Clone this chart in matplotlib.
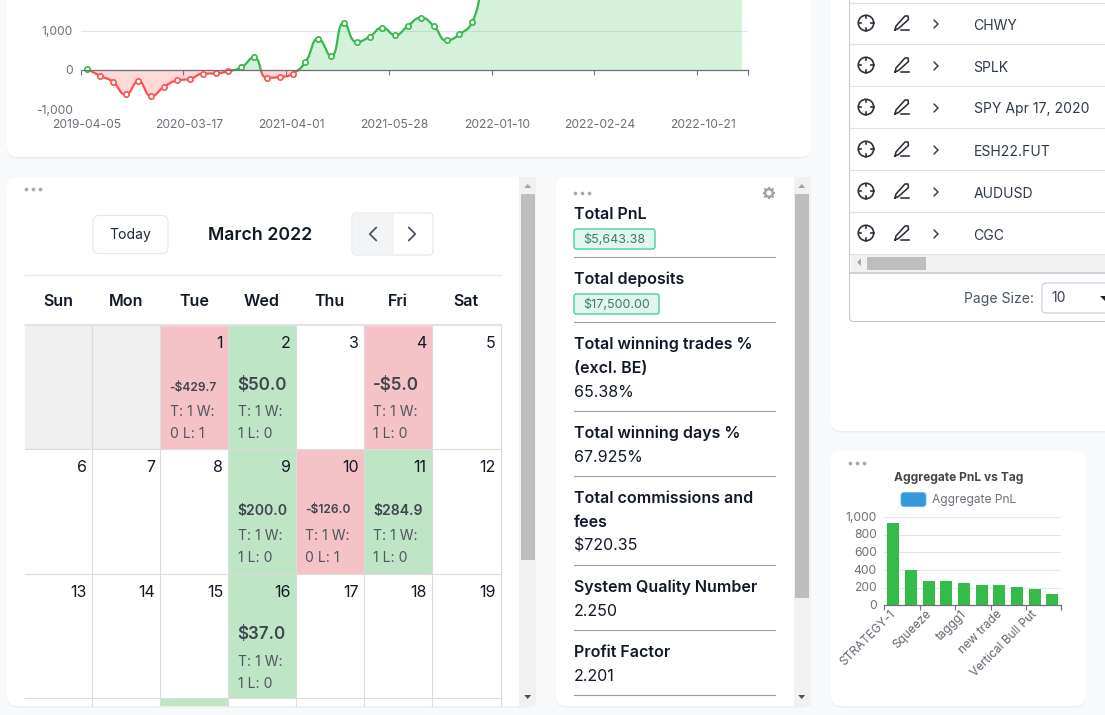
#!/usr/bin/env python3
import numpy as np
import matplotlib
matplotlib.use("Agg")
import matplotlib.pyplot as plt
from matplotlib.patches import FancyBboxPatch, Rectangle, Circle
from matplotlib.transforms import ScaledTranslation

plt.rcParams["font.family"] = ["Inter", "DejaVu Sans"]

W, H = 1105, 715

# pnl line chart, one value per trade date (the ones past index 30 are cut off by the top of the page)
pnl_values = [34, -135, -287, -608, -278, -650, -413, -253, -219, -84, -76, -17,
              76, 329, -186, -169, -84, 211, 802, 363, 1207, 717, 852, 1080, 895,
              1131, 1333, 1122, 759, 911, 1224, 2300, 2700, 3000, 3200, 3400, 3500,
              3700, 3900, 4000, 4200, 4300, 4500, 4600, 4800, 4900, 5000, 5200,
              5300, 5400, 5500, 5643]
pnl_tick_pos = [0, 8, 16, 24, 32, 40, 48]
pnl_tick_labels = ["2019-04-05", "2020-03-17", "2021-04-01", "2021-05-28",
                   "2022-01-10", "2022-02-24", "2022-10-21"]

# aggregate pnl by tag
tag_values = [932, 400, 275, 275, 257, 230, 230, 204, 189, 128]
tag_labels = ["STRATEGY-1", "Squeeze", "taggg1", "new trade", "Vertical Bull Put"]
tag_label_pos = [0, 2, 4, 6, 8]

# calendar
week_days = ["Sun", "Mon", "Tue", "Wed", "Thu", "Fri", "Sat"]
cal_weeks = [[None, None, 1, 2, 3, 4, 5], [6, 7, 8, 9, 10, 11, 12], [13, 14, 15, 16, 17, 18, 19]]
cal_days = {1: ("-$429.7", "T: 1 W:", "0 L: 1", False), 2: ("$50.0", "T: 1 W:", "1 L: 0", True),
            4: ("-$5.0", "T: 1 W:", "1 L: 0", True), 9: ("$200.0", "T: 1 W:", "1 L: 0", False),
            10: ("-$126.0", "T: 1 W:", "0 L: 1", False), 11: ("$284.9", "T: 1 W:", "1 L: 0", False),
            16: ("$37.0", "T: 1 W:", "1 L: 0", True)}
win_days = [2, 9, 11, 16]
loss_days = [1, 4, 10]

# table
symbols = ["CHWY", "SPLK", "SPY Apr 17, 2020", "ESH22.FUT", "AUDUSD", "CGC"]

GREEN = "#34b94a"
RED = "#ff4f4f"
AXIS = "#6e7079"
GRID = "#e0e6f1"
PINK = "#f5c2c7"
MINT = "#bfe5c7"


def smooth(values, sx=12.84, sy=0.0395, k=0.5, steps=30):
    # bezier through the points in pixel space with clamped control points, like the original chart's smoothed line
    x = np.arange(len(values)) * sx
    y = np.array(values, dtype=float) * sy
    n = len(y)
    cp_in, cp_out = np.zeros((n, 2)), np.zeros((n, 2))
    for i in range(n):
        p = np.array([x[i], y[i]])
        a = np.array([x[max(i-1, 0)], y[max(i-1, 0)]])
        b = np.array([x[min(i+1, n-1)], y[min(i+1, n-1)]])
        v = (b - a) * k
        d0, d1 = np.linalg.norm(p - a), np.linalg.norm(b - p)
        if d0 == 0:
            cp_out[i] = p + v * 0.5
            cp_in[i] = p
            continue
        if d1 == 0:
            cp_in[i] = p - v * 0.5
            cp_out[i] = p
            continue
        out = np.clip(p + v * d1 / (d0 + d1), np.minimum(p, b), np.maximum(p, b))
        inn = np.clip(p - (out - p) * d0 / d1, np.minimum(p, a), np.maximum(p, a))
        cp_in[i] = inn
        cp_out[i] = p + (p - inn) * d1 / d0
    xs, ys = [], []
    for i in range(n - 1):
        t = np.linspace(0, 1, steps, endpoint=False)
        for dst, p0, c0, c1, p1 in ((xs, x[i], cp_out[i, 0], cp_in[i+1, 0], x[i+1]),
                                    (ys, y[i], cp_out[i, 1], cp_in[i+1, 1], y[i+1])):
            dst.append((1-t)**3*p0 + 3*(1-t)**2*t*c0 + 3*(1-t)*t**2*c1 + t**3*p1)
    return np.concatenate(xs + [[x[-1]]]) / sx, np.concatenate(ys + [[y[-1]]]) / sy


def px_axes(x0, y0, x1, y1):
    ax = fig.add_axes([x0 / W, 1 - y1 / H, (x1 - x0) / W, (y1 - y0) / H])
    ax.patch.set_alpha(0)
    return ax


def txt(x, y, s, px=14, color="#111827", weight="normal", ha="left", **kw):
    # +1.5: Inter sits a bit high with va=center
    return bg.text(x, y + 1.5, s, fontsize=px * 0.72, color=color, fontweight=weight,
                   ha=ha, va="center", **kw)


def card(x0, y0, x1, y1, r=10):
    bg.add_patch(FancyBboxPatch((x0 + r, y0 + r + 1.5), x1 - x0 - 2*r, y1 - y0 - 2*r,
                                boxstyle=f"round,pad={r},rounding_size={r}", fc="#eceef1", ec="none"))
    bg.add_patch(FancyBboxPatch((x0 + r, y0 + r), x1 - x0 - 2*r, y1 - y0 - 2*r,
                                boxstyle=f"round,pad={r},rounding_size={r}", fc="white", ec="none"))


def dots(x, y):
    bg.scatter([x, x + 7, x + 14], [y, y, y], s=7, color="#a3a8b4", linewidths=0)


def vbar(x0, x1, top, bottom, th0, th1, inset):
    bg.add_patch(Rectangle((x0, top), x1 - x0, bottom - top, fc="#f1f1f1", ec="none"))
    bg.add_patch(Rectangle((x0 + inset, th0), 13.5, th1 - th0, fc="#bdbdbd", ec="none"))
    cx = x0 + inset + 6.7
    bg.fill([cx - 3.5, cx + 3.5, cx], [top + 11, top + 11, top + 7], color="#a3a3a3", lw=0)
    bg.fill([cx - 3.5, cx + 3.5, cx], [bottom - 11, bottom - 11, bottom - 7], color="#505050", lw=0)


def chevron(x, y, d=1, size=4, color="#374151", lw=1.1):
    bg.plot([x - d*size/2, x + d*size/2, x - d*size/2], [y - size, y, y + size], color=color, lw=lw,
            solid_capstyle="round", solid_joinstyle="round")


def crosshair(x, y):
    bg.add_patch(Circle((x, y), 7.7, fc="none", ec="#2b2f36", lw=1.2))
    for dx, dy in ((0, -1), (0, 1), (-1, 0), (1, 0)):
        bg.plot([x + dx*7.5, x + dx*5], [y + dy*7.5, y + dy*5], color="#2b2f36", lw=1.2)


def pencil(x, y):
    px_ = [x - 7, x - 6, x + 3, x + 6, x + 6.5, x - 3.5, x - 7]
    py_ = [y + 7, y + 3, y - 7, y - 7, y - 3.5, y + 5.5, y + 7]
    bg.plot(px_, py_, color="#2b2f36", lw=1.15, solid_joinstyle="round")
    bg.plot([x - 1, x + 7], [y + 7, y + 7], color="#2b2f36", lw=1.15)


def gear(x, y, color="#9ca3af"):
    bg.add_patch(Circle((x, y), 3.8, fc="none", ec=color, lw=1.7))
    for a in np.arange(8) * np.pi / 4:
        bg.plot([x + 4 * np.cos(a), x + 6.4 * np.cos(a)], [y + 4 * np.sin(a), y + 6.4 * np.sin(a)],
                color=color, lw=1.5, solid_capstyle="butt")


fig = plt.figure(figsize=(W / 100, H / 100), dpi=100, facecolor="#f8f9fb")
bg = fig.add_axes([0, 0, 1, 1], zorder=0)
bg.set_xlim(0, W)
bg.set_ylim(H, 0)
bg.axis("off")

card(7, -30, 811, 157)
card(7, 177, 536, 706)
card(556, 177, 811, 706)
card(831, -30, 1125, 431)
card(831, 451, 1085, 706)

# calendar card
vbar(519, 536, 177, 706, 194, 560, 2)
dots(26, 189)
col_x = [25, 92, 160, 228, 295.5, 363.5, 431.5, 500.5]
row_y = [325, 449, 574, 698, 706]
for d in win_days + loss_days:
    for r, week in enumerate(cal_weeks):
        if d in week:
            c = week.index(d)
            bg.add_patch(Rectangle((col_x[c], row_y[r]), col_x[c+1] - col_x[c], row_y[r+1] - row_y[r],
                                   fc=MINT if d in win_days else PINK, ec="none"))
for c in (0, 1):
    bg.add_patch(Rectangle((col_x[c], row_y[0]), col_x[c+1] - col_x[c], row_y[1] - row_y[0],
                           fc="#f0f0f0", ec="none"))
bg.add_patch(Rectangle((col_x[2], row_y[3]), col_x[3] - col_x[2], row_y[4] - row_y[3], fc=MINT, ec="none"))
for x in col_x[1:]:
    bg.plot([x, x], [325, 706], color="#dcdcdc", lw=0.8)
for y in row_y[1:4]:
    bg.plot([25, 501], [y, y], color="#dcdcdc", lw=0.8)
bg.plot([25, 501], [325, 325], color="#e2e3e6", lw=1.5)
bg.plot([25, 501], [275, 275], color="#e5e7eb", lw=0.8)

bg.add_patch(FancyBboxPatch((97, 219.5), 67, 30, boxstyle="round,pad=4,rounding_size=6",
                            fc="white", ec="#e5e7eb", lw=0.8))
txt(130.5, 233, "Today", 14, "#1f2937", ha="center")
txt(260, 233.5, "March 2022", 17.7, "#111827", "semibold", ha="center")
bg.add_patch(FancyBboxPatch((356, 217), 73, 34, boxstyle="round,pad=4,rounding_size=4",
                            fc="white", ec="#e5e7eb", lw=0.8))
bg.add_patch(Rectangle((353, 214), 41, 40, fc="#f3f4f6", ec="none"))
chevron(373, 234, -1, 6.5, "#4b5563", 1.3)
chevron(412, 234, 1, 6.5, "#4b5563", 1.3)
for c, name in enumerate(week_days):
    txt((col_x[c] + col_x[c+1]) / 2, 299.5, name, 16, "#111827", "semibold", ha="center")

text_rows = [(342, 384, 410, 432), (466, 509, 534, 556), (591, 633, 660, 683)]
for r, week in enumerate(cal_weeks):
    dy, amt_y, t_y, l_y = text_rows[r]
    for c, d in enumerate(week):
        if d is None:
            continue
        txt(col_x[c+1] - 5, dy, str(d), 16, "#111827", ha="right")
        if d in cal_days:
            amount, line1, line2, big = cal_days[d]
            x = col_x[c] + 9.5
            if big:
                txt(x, amt_y, amount, 17, "#3f4451", "semibold")
            else:
                txt(x, amt_y + (2 if d == 1 else 0), amount, 12 if amount.startswith("-") else 14,
                    "#3f4451", "semibold")
            txt(x, t_y, line1, 14, "#4f5561")
            txt(x, l_y, line2, 14, "#4f5561")

# stats card
vbar(794, 811, 177, 706, 194, 598, 1)
dots(575, 193)
gear(769, 193)
LX = 574
for label, y in (("Total PnL", 213), ("Total deposits", 278), ("Total winning trades %", 343),
                 ("(excl. BE)", 367), ("Total winning days %", 432), ("Total commissions and", 497),
                 ("fees", 521), ("System Quality Number", 586), ("Profit Factor", 651)):
    txt(LX, y, label, 16, "#111827", "semibold")
for value, y in (("65.38%", 391), ("67.925%", 456), ("$720.35", 545), ("2.250", 610), ("2.201", 675)):
    txt(LX, y, value, 16, "#111827")
for y in (257, 322, 411, 476, 565, 630, 695):
    bg.plot([LX, 775], [y, y], color="#9ca0ac", lw=0.8)
for x1, y, value in ((655, 229, "$5,643.38"), (659, 294, "$17,500.00")):
    bg.add_patch(FancyBboxPatch((LX + 2, y + 2), x1 - LX - 4, 16, boxstyle="round,pad=2,rounding_size=2.5",
                                fc="#e1f7ee", ec="#35c993", lw=0.9))
    txt((LX + x1) / 2, y + 9, value, 12.5, "#3a7d68", ha="center")

# table card
bg.add_patch(FancyBboxPatch((853.5, -40), 300, 357.5, boxstyle="round,pad=4,rounding_size=4",
                            fc="white", ec="#c5cad3", lw=0.8))
row_lines = [2.5, 44, 86, 128, 170, 212, 254]
for y in row_lines:
    bg.plot([850, W], [y, y], color="#dde1ea", lw=0.8)
for i, sym in enumerate(symbols):
    y = 24 + 42 * i
    crosshair(866, y - 1)
    pencil(902, y - 1)
    chevron(936, y, 1, 4, "#374151", 1.1)
    txt(973.5, y, sym, 14, "#2f3a4a")
bg.add_patch(Rectangle((850.5, 254.5), W - 850, 17, fc="#f1f1f1", ec="none"))
bg.add_patch(Rectangle((867, 257), 59, 13, fc="#bdbdbd", ec="none"))
bg.fill([861, 861, 857], [258.5, 266, 262.2], color="#a3a3a3", lw=0)
bg.plot([850, W], [272.5, 272.5], color="#c5cad3", lw=1.2)
txt(1034, 297, "Page Size:", 14, "#4b5563", ha="right")
bg.add_patch(FancyBboxPatch((1046, 287), 80, 22, boxstyle="round,pad=4,rounding_size=4",
                            fc="white", ec="#c5cad3", lw=0.8))
txt(1051, 297, "10", 14, "#374151")
bg.fill([1100, 1105, 1105], [296, 296, 301], color="#222222", lw=0)

# bar card text
dots(849.5, 463)
txt(958.5, 477, "Aggregate PnL vs Tag", 12, "#464646", "bold", ha="center")
bg.add_patch(FancyBboxPatch((903, 494.5), 21, 10, boxstyle="round,pad=2,rounding_size=3",
                            fc="#3498db", ec="#66b5e8", lw=0.6))
txt(932, 498, "Aggregate PnL", 12, AXIS)

# pnl line chart
ax = px_axes(80.7, 0, 748.3, 110)
ax.set_zorder(2)
sx, sy = smooth(pnl_values)
idx = np.arange(len(pnl_values))
vals = np.array(pnl_values)
ax.fill_between(sx, sy, 0, where=sy >= 0, interpolate=True, color=GREEN, alpha=0.2, lw=0)
ax.fill_between(sx, sy, 0, where=sy <= 0, interpolate=True, color=RED, alpha=0.22, lw=0)
ax.plot(sx, np.ma.masked_where(sy < 0, sy), color=GREEN, lw=1.6)
ax.plot(sx, np.ma.masked_where(sy > 0, sy), color=RED, lw=1.6)
ax.plot(idx[vals >= 0], vals[vals >= 0], ls="none", marker="o", ms=3.8, mfc="white", mec=GREEN, mew=1.2)
ax.plot(idx[vals < 0], vals[vals < 0], ls="none", marker="o", ms=3.8, mfc="white", mec=RED, mew=1.2)
ax.set_xlim(-0.5, 51.5)
ax.set_ylim(-1000, 70.3 / 39.5 * 1000)
ax.set_yticks([-1000, 0, 1000])
ax.set_yticklabels(["-1,000", "0", "1,000"])
ax.grid(axis="y", color=GRID, lw=0.8)
ax.set_axisbelow(True)
for s in ("top", "left", "right"):
    ax.spines[s].set_visible(False)
ax.spines["bottom"].set_position(("data", 0))
ax.spines["bottom"].set_color(AXIS)
ax.spines["bottom"].set_linewidth(0.9)
ax.set_xticks(pnl_tick_pos)
ax.set_xticklabels(pnl_tick_labels)
ax.set_xticks(list(np.arange(-0.5, 51, 8)) + [51.5], minor=True)
ax.tick_params(axis="x", which="major", length=0, pad=35, labelsize=8.7, labelcolor=AXIS)
ax.tick_params(axis="x", which="minor", length=3.6, width=0.8, color=AXIS)
ax.tick_params(axis="y", length=0, pad=5.5, labelsize=8.7, labelcolor=AXIS)
for label in ax.get_xticklabels():
    label.set_transform(label.get_transform() + ScaledTranslation(-0.7 / 100, 0, fig.dpi_scale_trans))
for label in ax.get_yticklabels():
    label.set_transform(label.get_transform() + ScaledTranslation(0, 0.6 / 100, fig.dpi_scale_trans))

# tag bars
ax2 = px_axes(884.3, 517, 1061.3, 605.3)
ax2.set_zorder(2)
ax2.bar(np.arange(len(tag_values)), tag_values, width=0.68, color="#35bb4a")
ax2.set_xlim(-0.5, 9.5)
ax2.set_ylim(0, 1000)
ax2.set_yticks([0, 200, 400, 600, 800, 1000])
ax2.set_yticklabels(["0", "200", "400", "600", "800", "1,000"])
ax2.grid(axis="y", color=GRID, lw=0.8)
ax2.set_axisbelow(True)
for s in ("top", "left", "right"):
    ax2.spines[s].set_visible(False)
ax2.spines["bottom"].set_color(AXIS)
ax2.spines["bottom"].set_linewidth(0.9)
ax2.set_xticks(tag_label_pos)
ax2.set_xticklabels(tag_labels, rotation=45, ha="right", rotation_mode="anchor")
ax2.set_xticks(np.arange(-0.5, 10, 2).tolist() + [9.5], minor=True)
ax2.tick_params(axis="x", which="major", length=0, pad=6, labelsize=8.5, labelcolor="#63656e")
ax2.tick_params(axis="x", which="minor", length=3.6, width=0.8, color=AXIS)
ax2.tick_params(axis="y", length=0, pad=5.5, labelsize=8.7, labelcolor=AXIS)
for label in ax2.get_xticklabels():
    label.set_transform(label.get_transform() + ScaledTranslation(-3.5 / 100, 5.5 / 100, fig.dpi_scale_trans))
for label in ax2.get_yticklabels():
    label.set_transform(label.get_transform() + ScaledTranslation(0, 0.8 / 100, fig.dpi_scale_trans))

fig.savefig("out.png", dpi=100)
